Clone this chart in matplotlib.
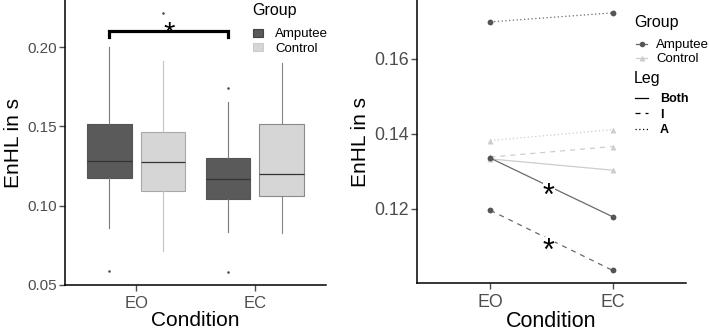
import numpy as np
import matplotlib
matplotlib.use("Agg")
import matplotlib.pyplot as plt
from matplotlib.patches import Patch
from matplotlib.lines import Line2D

plt.rcParams['font.family'] = ['Liberation Sans', 'DejaVu Sans']

# data
conditions = ['EO', 'EC']
groups = ['Amputee', 'Control']

# boxplot stats, per group, per condition (EO, EC)
amp_whislo = [0.0859, 0.0834]
amp_q1 = [0.1171, 0.1044]
amp_med = [0.1283, 0.1169]
amp_q3 = [0.1513, 0.1298]
amp_whishi = [0.2003, 0.1654]
amp_fliers = [[0.0584], [0.0580, 0.1745]]

ctl_whislo = [0.0715, 0.0827]
ctl_q1 = [0.1093, 0.1063]
ctl_med = [0.1272, 0.1201]
ctl_q3 = [0.1467, 0.1517]
ctl_whishi = [0.1914, 0.1899]
ctl_fliers = [[0.2216], []]

# mean lines per leg (EO, EC)
legs = ['Both', 'I', 'A']
amp_means = {'Both': [0.1335, 0.1179], 'I': [0.1196, 0.1036], 'A': [0.1698, 0.1722]}
ctl_means = {'Both': [0.1333, 0.1303], 'I': [0.1338, 0.1366], 'A': [0.1382, 0.1411]}

dark_fill = '#5a5a5a'
light_fill = '#d6d6d6'
tick_col = '#4d4d4d'

fig = plt.figure(figsize=(7.09, 3.32), dpi=100)
ax1 = fig.add_axes([65 / 709, 1 - 285 / 332, 261 / 709, 285 / 332])
ax2 = fig.add_axes([417 / 709, 1 - 283.3 / 332, 269 / 709, 283.3 / 332])

# ---- left panel: boxplots
x = np.arange(1, len(conditions) + 1)
off = 0.225
w = 0.375

def make_stats(lo, q1, med, q3, hi, fl):
    return [dict(whislo=lo[i], q1=q1[i], med=med[i], q3=q3[i], whishi=hi[i], fliers=fl[i])
            for i in range(len(lo))]

amp_stats = make_stats(amp_whislo, amp_q1, amp_med, amp_q3, amp_whishi, amp_fliers)
ctl_stats = make_stats(ctl_whislo, ctl_q1, ctl_med, ctl_q3, ctl_whishi, ctl_fliers)

flier = dict(marker='o', markersize=1.8, markerfacecolor='#444444', markeredgecolor='none')
ax1.bxp(amp_stats, positions=x - off, widths=w, patch_artist=True, showcaps=False,
        boxprops=dict(facecolor=dark_fill, edgecolor='#555555', lw=0.8),
        whiskerprops=dict(color='#7a7a7a', lw=0.8),
        medianprops=dict(color='#333333', lw=0.9), flierprops=flier)
ctl_whisk_cols = ['#c2c2c2', '#858585']
ctl_edge_cols = ['#a8a8a8', '#8a8a8a']
for i in range(len(conditions)):
    ax1.bxp([ctl_stats[i]], positions=[x[i] + off], widths=w, patch_artist=True, showcaps=False,
            boxprops=dict(facecolor=light_fill, edgecolor=ctl_edge_cols[i], lw=0.8),
            whiskerprops=dict(color=ctl_whisk_cols[i], lw=0.8),
            medianprops=dict(color='#333333', lw=0.9), flierprops=flier)

# significance bracket between amputee EO and EC
yb_hi, yb_lo = 0.2100, 0.2064
ax1.plot([x[0] - off, x[0] - off, x[1] - off, x[1] - off], [yb_lo, yb_hi, yb_hi, yb_lo],
         color='black', lw=2.3, solid_joinstyle='miter', clip_on=False)
ax1.annotate('*', xy=(np.mean(x) - off, 0.2140), xytext=(0, -12), textcoords='offset points',
             ha='center', va='baseline', fontsize=21)

all_box = amp_whislo + ctl_whislo + [v for f in amp_fliers + ctl_fliers for v in f]
all_box_hi = amp_whishi + ctl_whishi + [v for f in amp_fliers + ctl_fliers for v in f]
lo, hi = min(all_box), max(all_box_hi)
pad = 0.05 * (hi - lo)
ax1.set_ylim(lo - pad, hi + pad)
ax1.set_yticks([0.05, 0.10, 0.15, 0.20])
ax1.set_yticklabels(['0.05', '0.10', '0.15', '0.20'])

fig.text(252 / 709, 1 - 11 / 332, 'Group', fontsize=11.5, va='center', ha='left')
ax1.legend(handles=[Patch(facecolor=dark_fill, edgecolor='#444444', lw=0.8),
                    Patch(facecolor=light_fill, edgecolor='#cccccc', lw=0.8)],
           labels=groups, loc='upper left',
           bbox_to_anchor=(253 / 709, 1 - 28.5 / 332), bbox_transform=fig.transFigure,
           frameon=False, fontsize=9.5,
           handlelength=0.76, handleheight=0.55, handletextpad=0.9, labelspacing=0.18,
           borderpad=0, borderaxespad=0)

# ---- right panel: means per leg
styles = {'Both': '-', 'I': (0, (4, 4)), 'A': (0, (1, 2))}
for leg in legs:
    ax2.plot(x, ctl_means[leg], color='#cdcdcd', lw=0.9, ls=styles[leg],
             marker='^', markersize=5, markerfacecolor='#cdcdcd', markeredgecolor='none')
for leg in legs:
    ax2.plot(x, amp_means[leg], color='#6a6a6a', lw=0.9, ls=styles[leg],
             marker='o', markersize=4.2, markerfacecolor='#555555', markeredgecolor='none')

star_x = 1.477
for sy in [0.1256, 0.1111]:
    ax2.annotate('*', xy=(star_x, sy), xytext=(0, -12.5), textcoords='offset points',
                 ha='center', va='baseline', fontsize=22,
                 bbox=dict(boxstyle='square,pad=0.0', facecolor='white', edgecolor='none'))

vals = [v for d in (amp_means, ctl_means) for k in d for v in d[k]]
lo2, hi2 = min(vals), max(vals)
pad2 = 0.05 * (hi2 - lo2)
ax2.set_ylim(lo2 - pad2, hi2 + pad2)
ax2.set_yticks([0.12, 0.14, 0.16])
ax2.set_yticklabels(['0.12', '0.14', '0.16'])

fig.text(634 / 709, 1 - 22.7 / 332, 'Group', fontsize=11.5, va='center', ha='left')
leg1 = ax2.legend(handles=[Line2D([], [], color='#6a6a6a', marker='o', markersize=4,
                                  markerfacecolor='#555555', markeredgecolor='none', lw=0.9),
                           Line2D([], [], color='#cdcdcd', marker='^', markersize=5,
                                  markerfacecolor='#cdcdcd', markeredgecolor='none', lw=0.9)],
                  labels=groups, loc='upper left',
                  bbox_to_anchor=(636 / 709, 1 - 39 / 332), bbox_transform=fig.transFigure,
                  frameon=False, fontsize=9.5,
                  handlelength=0.85, handletextpad=0.68, labelspacing=0.15,
                  borderpad=0, borderaxespad=0)
ax2.add_artist(leg1)
fig.text(634 / 709, 1 - 79 / 332, 'Leg', fontsize=11.5, va='center', ha='left')
ax2.legend(handles=[Line2D([], [], color='black', lw=0.9, ls=styles[l]) for l in legs],
           labels=legs, loc='upper left',
           bbox_to_anchor=(635 / 709, 1 - 93 / 332), bbox_transform=fig.transFigure,
           frameon=False, prop=dict(size=9, weight='bold'),
           handlelength=1.0, handletextpad=1.0, labelspacing=0.3,
           borderpad=0, borderaxespad=0)

for ax, ts, xs, ls in ((ax1, 11, 12, 15), (ax2, 12.8, 12.8, 15.5)):
    ax.set_xlim(0.4, 2.6)
    ax.set_xticks(x)
    ax.set_xticklabels(conditions)
    ax.set_xlabel('Condition', fontsize=ls, labelpad=0)
    ax.set_ylabel('EnHL in s', fontsize=15, labelpad=3)
    for s in ('top', 'right'):
        ax.spines[s].set_visible(False)
    for s in ('left', 'bottom'):
        ax.spines[s].set_linewidth(1.1)
    ax.tick_params(axis='both', colors=tick_col, labelsize=ts, length=4, width=1.0, pad=2)
    ax.tick_params(axis='x', pad=4, labelsize=xs)

fig.savefig('out.png', dpi=100)
